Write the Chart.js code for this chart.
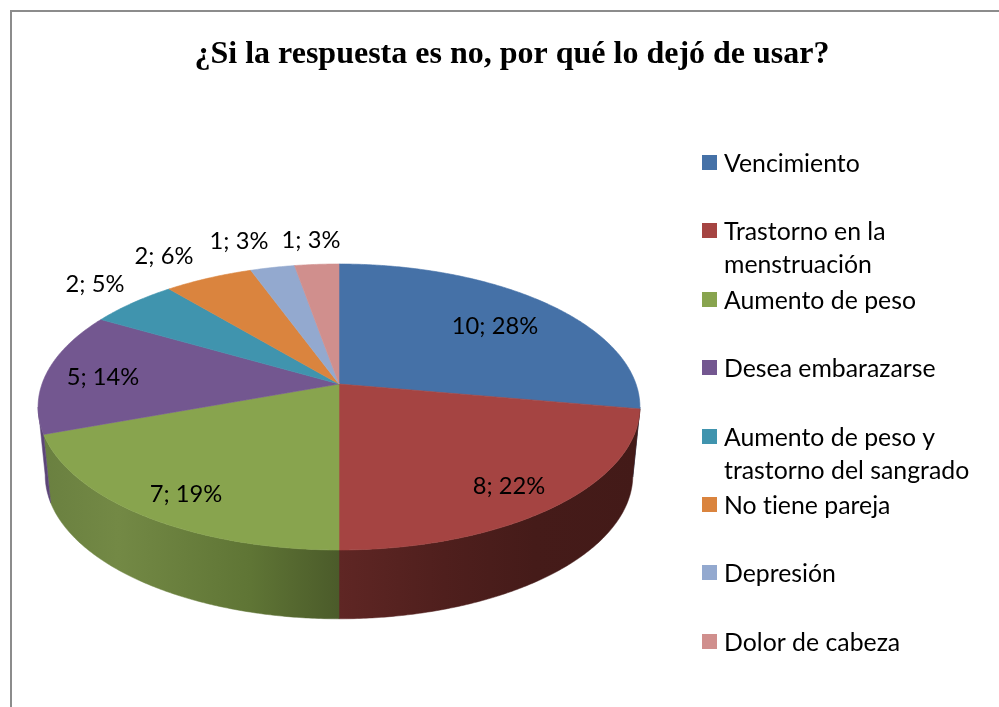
<!DOCTYPE html>
<html>
<head>
<meta charset="utf-8">
<style>html,body{margin:0;padding:0;background:#fff;overflow:hidden}canvas{display:block}</style>
<script src="https://cdn.jsdelivr.net/npm/chart.js@4"></script>
</head>
<body>
<canvas id="c" width="999" height="707"></canvas>
<script>
const titleText = '¿Si la respuesta es no, por qué lo dejó de usar?';
const categories = [
  ['Vencimiento'],
  ['Trastorno en la', 'menstruación'],
  ['Aumento de peso'],
  ['Desea embarazarse'],
  ['Aumento de peso y', 'trastorno del sangrado'],
  ['No tiene pareja'],
  ['Depresión'],
  ['Dolor de cabeza']
];
const counts = [10, 8, 7, 5, 2, 2, 1, 1];
const percents = [28, 22, 19, 14, 5, 6, 3, 3];
const topColors = ['#4571A7', '#A54442', '#88A44E', '#735790', '#4094AE', '#DA843E', '#93A9CF', '#D08F8D'];
const wallColors = [
  [[0, '#2b4568'], [1, '#2b4568']],
  [[0, '#5f2624'], [0.35, '#4f1f1d'], [0.65, '#451b19'], [1, '#431a18']],
  [[0, '#6a8040'], [0.25, '#738945'], [0.7, '#5f7535'], [1, '#4b5b2a']],
  [[0, '#5c4578'], [1, '#5c4578']],
  [[0, '#000'], [1, '#000']], [[0, '#000'], [1, '#000']], [[0, '#000'], [1, '#000']], [[0, '#000'], [1, '#000']]
];
const labelAnchors = [[495, 326], [509, 486], [186, 494], [103, 377], [95, 284], [164, 256], [239, 241], [311, 240]];

const LABEL_FONT = '400 23.7px Lato';
const LEGEND_FONT = '400 24.8px Lato';
const view = { cx: 339, cy: 384, sx: 297, sy: 139.3, k: 0.1608, wallDy: 68, wallSx: 290, wallSy: 140 };
const project = (a, sx, sy, cy) => {
  const u = Math.cos(a), v = Math.sin(a), w = 1 - view.k * v;
  return [view.cx + sx * u / w, cy + sy * v / w];
};
const topPt = a => project(a, view.sx, view.sy, view.cy);
const lowPt = a => project(a, view.wallSx, view.wallSy, view.cy + view.wallDy);

const piePlugin = {
  id: 'tiltedPie',
  beforeDraw(chart) {
    const ctx = chart.ctx;
    ctx.save();
    ctx.strokeStyle = '#8c8c8c';
    ctx.lineWidth = 2;
    ctx.beginPath();
    ctx.moveTo(11, 707);
    ctx.lineTo(11, 11);
    ctx.lineTo(999, 11);
    ctx.stroke();
    ctx.restore();
  },
  beforeDatasetsDraw(chart) {
    const ctx = chart.ctx;
    const arcs = chart.getDatasetMeta(0).data;
    const step = Math.PI / 360;
    const frontA = Math.asin(view.k), frontB = Math.PI - frontA;
    ctx.save();
    // side walls
    arcs.forEach((arc, i) => {
      const s = arc.startAngle, e = arc.endAngle;
      const a1 = Math.max(s, frontA), a2 = Math.min(e, frontB);
      if (a2 <= a1) return;
      const p1 = topPt(a1), p2 = topPt(a2);
      const g = ctx.createLinearGradient(Math.min(p1[0], p2[0]), 0, Math.max(p1[0], p2[0]), 0);
      wallColors[i].forEach(st => g.addColorStop(st[0], st[1]));
      ctx.beginPath();
      for (let a = a1; a < a2; a += step) { const p = topPt(a); ctx.lineTo(p[0], p[1]); }
      ctx.lineTo(p2[0], p2[1]);
      for (let a = a2; a > a1; a -= step) { const p = lowPt(a); ctx.lineTo(p[0], p[1]); }
      const q = lowPt(a1); ctx.lineTo(q[0], q[1]);
      ctx.closePath();
      ctx.fillStyle = g; ctx.strokeStyle = g; ctx.lineWidth = 0.5;
      ctx.fill(); ctx.stroke();
    });
    // top faces
    arcs.forEach((arc, i) => {
      ctx.beginPath();
      ctx.moveTo(view.cx, view.cy);
      for (let a = arc.startAngle; a < arc.endAngle; a += step) { const p = topPt(a); ctx.lineTo(p[0], p[1]); }
      const p = topPt(arc.endAngle); ctx.lineTo(p[0], p[1]);
      ctx.closePath();
      ctx.fillStyle = arc.options.backgroundColor;
      ctx.strokeStyle = arc.options.backgroundColor;
      ctx.lineWidth = 0.6;
      ctx.fill(); ctx.stroke();
    });
    ctx.restore();
    return false;
  },
  afterDraw(chart) {
    const ctx = chart.ctx;
    ctx.save();
    ctx.letterSpacing = '0.01px';
    ctx.fillStyle = '#000';
    ctx.font = LABEL_FONT;
    ctx.textAlign = 'center';
    ctx.textBaseline = 'middle';
    counts.forEach((n, i) => {
      ctx.fillText(n + '; ' + percents[i] + '%', labelAnchors[i][0], labelAnchors[i][1]);
    });
    // legend
    ctx.font = LEGEND_FONT;
    ctx.textAlign = 'left';
    ctx.textBaseline = 'alphabetic';
    chart.data.labels.forEach((lines, i) => {
      const base = 172 + 68.4 * i;
      ctx.fillStyle = topColors[i];
      ctx.fillRect(702, Math.round(base - 17), 15, 15);
      ctx.fillStyle = '#000';
      lines.forEach((t, j) => ctx.fillText(t, 724, base + 33 * j));
    });
    ctx.restore();
  }
};

new Chart(document.getElementById('c'), {
  type: 'pie',
  data: {
    labels: categories,
    datasets: [{ data: counts, backgroundColor: topColors, borderWidth: 0 }]
  },
  options: {
    responsive: false,
    animation: false,
    layout: { padding: { left: 25 } },
    plugins: {
      legend: { display: false },
      tooltip: { enabled: false },
      title: {
        display: true,
        text: titleText,
        color: '#000',
        font: { family: 'Liberation Serif', size: 32, weight: 'bold' },
        padding: { top: 36, bottom: 10 }
      }
    }
  },
  plugins: [piePlugin]
});
</script>
</body>
</html>
